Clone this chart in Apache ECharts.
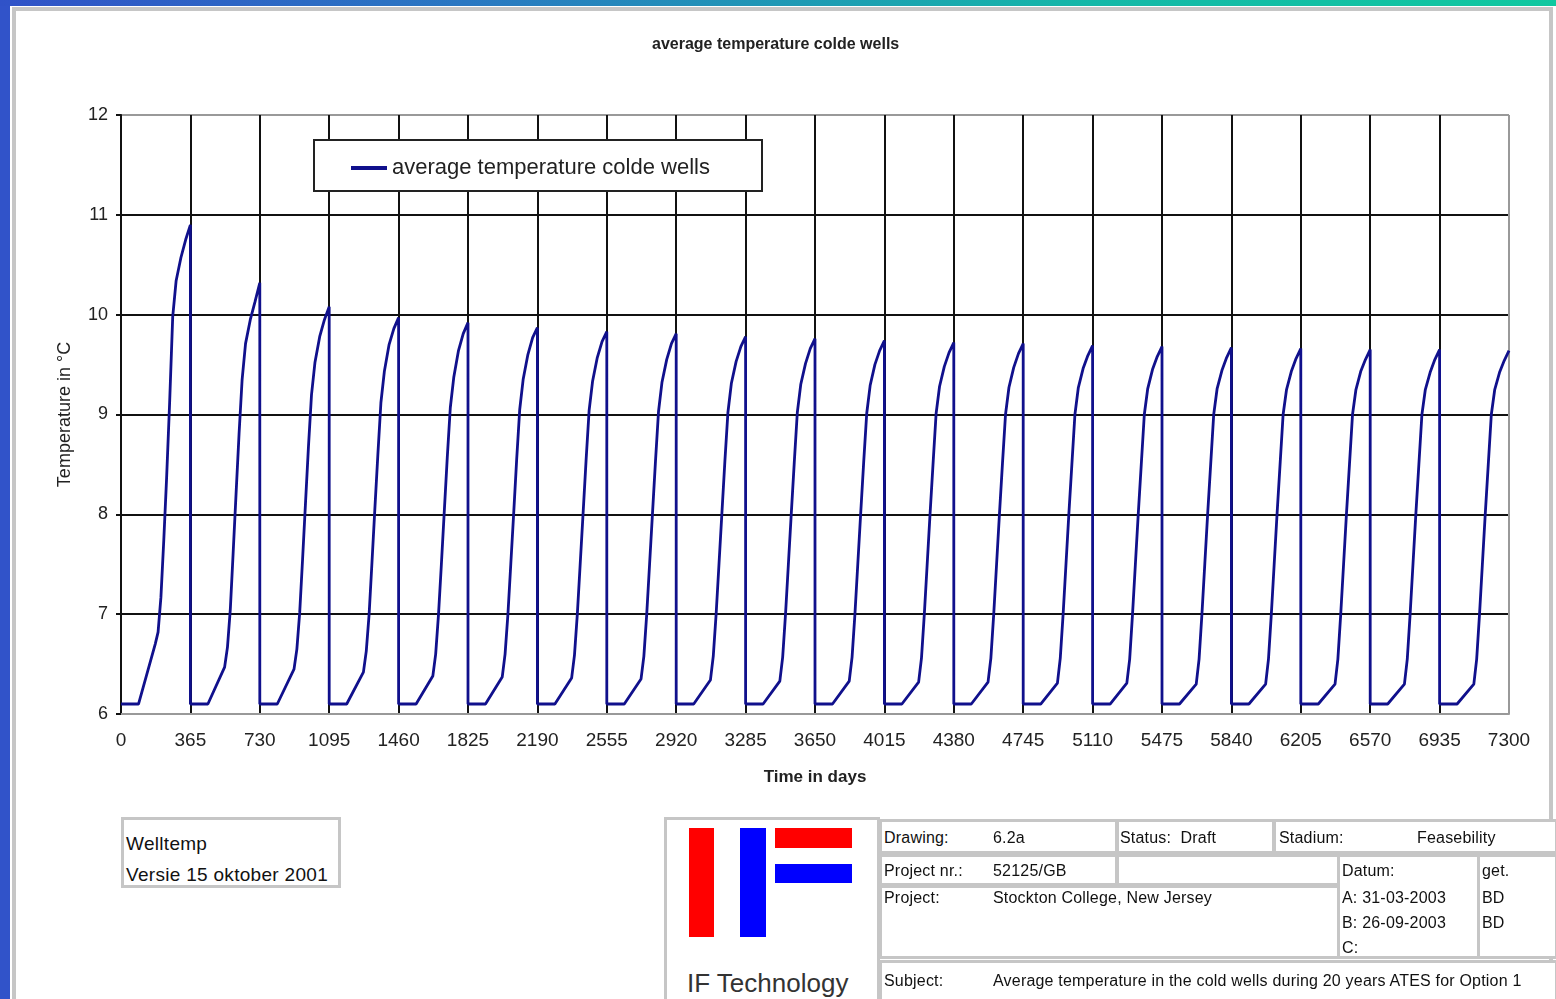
<!DOCTYPE html>
<html>
<head>
<meta charset="utf-8">
<script src="https://cdn.jsdelivr.net/npm/echarts@6/dist/echarts.min.js"></script>
<style>
    body { margin: 0; }
    #page { position: relative; width: 1556px; height: 999px; overflow: hidden; background: #3153c9; font-family: "Liberation Sans", Arial, sans-serif; }
    #topbar { position: absolute; left: 0; top: 0; width: 1556px; height: 6px; background: linear-gradient(to right, #3052c8 0%, #2a78c2 30%, #14b8a8 70%, #10c8a0 100%); }
    #sheet { position: absolute; left: 10px; top: 6px; width: 1546px; height: 1000px; background: #fff; }
    #sheetborder { position: absolute; left: 12px; top: 7px; width: 1533px; height: 1000px; border: 4px solid #c6c6c6; }
    #chart { position: absolute; left: 0; top: 0; width: 1556px; height: 999px; }
    .box { position: absolute; border: 3px solid #c6c6c6; box-sizing: border-box; background: #fff; }
    .t { position: absolute; font-size: 16px; letter-spacing: 0.2px; color: #111; white-space: nowrap; line-height: 1; }
</style>
</head>
<body>
<div id="page">
    <div id="topbar"></div>
    <div id="sheet"></div>
    <div id="sheetborder"></div>
    <div id="chart"></div>

    <!-- version box -->
    <div class="box" style="left:121px;top:817px;width:220px;height:71px;"></div>
    <div class="t" style="left:126px;top:834px;font-size:19px;letter-spacing:0.3px;">Welltemp</div>
    <div class="t" style="left:126px;top:865px;font-size:19px;letter-spacing:0.3px;">Versie 15 oktober 2001</div>

    <!-- title block -->
    <div class="box" style="left:664px;top:817px;width:216px;height:190px;"></div>
    <div style="position:absolute;left:689px;top:828px;width:25px;height:109px;background:#f00;"></div>
    <div style="position:absolute;left:740px;top:828px;width:26px;height:109px;background:#00f;"></div>
    <div style="position:absolute;left:775px;top:828px;width:77px;height:20px;background:#f00;"></div>
    <div style="position:absolute;left:775px;top:864px;width:77px;height:19px;background:#00f;"></div>
    <div class="t" style="left:687px;top:970px;font-size:26px;letter-spacing:0;color:#333;">IF Technology</div>

    <div class="box" style="left:879px;top:819px;width:239px;height:35px;"></div>
    <div class="box" style="left:1116px;top:819px;width:159px;height:35px;"></div>
    <div class="box" style="left:1273px;top:819px;width:285px;height:35px;"></div>
    <div class="box" style="left:879px;top:854px;width:239px;height:32px;"></div>
    <div class="box" style="left:1116px;top:854px;width:224px;height:32px;"></div>
    <div class="box" style="left:879px;top:885px;width:461px;height:74px;"></div>
    <div class="box" style="left:1337px;top:854px;width:143px;height:105px;"></div>
    <div class="box" style="left:1477px;top:854px;width:81px;height:105px;"></div>
    <div class="box" style="left:879px;top:960px;width:679px;height:50px;"></div>

    <div class="t" style="left:884px;top:830px;">Drawing:</div>
    <div class="t" style="left:993px;top:830px;">6.2a</div>
    <div class="t" style="left:1120px;top:830px;">Status:&nbsp; Draft</div>
    <div class="t" style="left:1279px;top:830px;">Stadium:</div>
    <div class="t" style="left:1417px;top:830px;">Feasebility</div>
    <div class="t" style="left:884px;top:863px;">Project nr.:</div>
    <div class="t" style="left:993px;top:863px;">52125/GB</div>
    <div class="t" style="left:884px;top:890px;">Project:</div>
    <div class="t" style="left:993px;top:890px;">Stockton College, New Jersey</div>
    <div class="t" style="left:1342px;top:863px;">Datum:</div>
    <div class="t" style="left:1342px;top:890px;">A: 31-03-2003</div>
    <div class="t" style="left:1342px;top:915px;">B: 26-09-2003</div>
    <div class="t" style="left:1342px;top:940px;">C:</div>
    <div class="t" style="left:1482px;top:863px;">get.</div>
    <div class="t" style="left:1482px;top:890px;">BD</div>
    <div class="t" style="left:1482px;top:915px;">BD</div>
    <div class="t" style="left:884px;top:973px;">Subject:</div>
    <div class="t" style="left:993px;top:973px;">Average temperature in the cold wells during 20 years ATES for Option 1</div>
</div>
<script>
// start day of each yearly cycle (temperature drops back at each of these)
const cycleStarts = [0, 365, 730, 1095, 1460, 1825, 2190, 2555, 2920, 3285,
    3650, 4015, 4380, 4745, 5110, 5475, 5840, 6205, 6570, 6935];

// day within the cycle where each temperature was read
const dayInCycle = [0, 92, 180, 195, 210, 225, 240, 256, 272, 290, 315, 340, 365];

// temperature (°C) for each cycle, at dayInCycle
const cycleTemps = [
    [6.1, 6.1, 6.70, 6.82, 7.17, 7.74, 8.37, 9.13, 9.98, 10.34, 10.57, 10.75, 10.90],
    [6.1, 6.1, 6.47, 6.67, 7.05, 7.62, 8.20, 8.81, 9.35, 9.71, 9.95, 10.13, 10.32],
    [6.1, 6.1, 6.45, 6.65, 7.02, 7.55, 8.10, 8.68, 9.20, 9.52, 9.78, 9.95, 10.08],
    [6.1, 6.1, 6.42, 6.63, 7.00, 7.52, 8.05, 8.60, 9.12, 9.43, 9.70, 9.86, 9.97],
    [6.1, 6.1, 6.38, 6.60, 7.00, 7.50, 8.02, 8.57, 9.07, 9.37, 9.64, 9.81, 9.92],
    [6.1, 6.1, 6.37, 6.60, 7.00, 7.50, 8.00, 8.55, 9.05, 9.35, 9.60, 9.77, 9.87],
    [6.1, 6.1, 6.36, 6.59, 7.00, 7.50, 8.00, 8.54, 9.04, 9.33, 9.57, 9.73, 9.83],
    [6.1, 6.1, 6.35, 6.58, 7.00, 7.50, 8.00, 8.53, 9.03, 9.32, 9.55, 9.71, 9.81],
    [6.1, 6.1, 6.34, 6.58, 7.00, 7.50, 8.00, 8.53, 9.02, 9.31, 9.53, 9.68, 9.78],
    [6.1, 6.1, 6.33, 6.57, 7.00, 7.50, 8.00, 8.52, 9.02, 9.30, 9.51, 9.66, 9.76],
    [6.1, 6.1, 6.33, 6.57, 7.00, 7.50, 8.00, 8.52, 9.01, 9.29, 9.50, 9.64, 9.74],
    [6.1, 6.1, 6.32, 6.56, 7.00, 7.50, 8.00, 8.51, 9.01, 9.28, 9.48, 9.62, 9.72],
    [6.1, 6.1, 6.32, 6.56, 7.00, 7.50, 8.00, 8.51, 9.00, 9.27, 9.47, 9.61, 9.71],
    [6.1, 6.1, 6.31, 6.56, 7.00, 7.50, 8.00, 8.50, 9.00, 9.27, 9.46, 9.59, 9.69],
    [6.1, 6.1, 6.31, 6.55, 7.00, 7.50, 8.00, 8.50, 9.00, 9.26, 9.45, 9.58, 9.68],
    [6.1, 6.1, 6.30, 6.55, 7.00, 7.50, 8.00, 8.50, 9.00, 9.26, 9.44, 9.57, 9.67],
    [6.1, 6.1, 6.30, 6.55, 7.00, 7.50, 8.00, 8.50, 9.00, 9.25, 9.43, 9.56, 9.66],
    [6.1, 6.1, 6.30, 6.55, 7.00, 7.50, 8.00, 8.50, 9.00, 9.25, 9.43, 9.55, 9.65],
    [6.1, 6.1, 6.30, 6.55, 7.00, 7.50, 8.00, 8.50, 9.00, 9.25, 9.42, 9.55, 9.65],
    [6.1, 6.1, 6.30, 6.55, 7.00, 7.50, 8.00, 8.50, 9.00, 9.25, 9.42, 9.54, 9.64]
];

const seriesName = 'average temperature colde wells';

window.onload = function() {
    drawChart();
}

function drawChart() {
    let chart = echarts.init(document.getElementById('chart'));

    let points = [];
    cycleStarts.forEach((start, i) => {
        dayInCycle.forEach((d, j) => {
            points.push([start + d, cycleTemps[i][j]]);
        });
    });

    let gridBlack = '#111';
    let xSplitColors = cycleStarts.map(() => gridBlack).concat(['#999']);

    let option = {
        backgroundColor: 'transparent',
        animation: false,
        textStyle: { fontFamily: 'Liberation Sans, Arial, sans-serif' },
        title: {
            text: seriesName,
            left: 647,
            top: 32,
            textStyle: { fontSize: 16, fontWeight: 'bold', color: '#222' }
        },
        legend: {
            left: 346,
            top: 152,
            icon: 'rect',
            itemWidth: 36,
            itemHeight: 4,
            itemGap: 4,
            textStyle: { fontSize: 22, color: '#222' },
            data: [seriesName]
        },
        graphic: [{
            type: 'rect',
            z: 3,
            shape: { x: 314, y: 140, width: 448, height: 51 },
            style: { fill: '#fff', stroke: '#222', lineWidth: 2 }
        }],
        grid: { left: 121, top: 115, width: 1388, height: 599 },
        xAxis: {
            type: 'value',
            min: 0,
            max: 7300,
            interval: 365,
            name: 'Time in days',
            nameLocation: 'middle',
            nameGap: 55,
            nameTextStyle: { fontSize: 17, fontWeight: 'bold', color: '#222' },
            axisLine: { lineStyle: { color: '#999', width: 2 } },
            axisTick: { show: false },
            axisLabel: { fontSize: 19, color: '#222', margin: 17, formatter: v => String(v) },
            splitLine: { lineStyle: { color: xSplitColors, width: 2 } }
        },
        yAxis: {
            type: 'value',
            min: 6,
            max: 12,
            interval: 1,
            name: 'Temperature in °C',
            nameLocation: 'middle',
            nameGap: 47,
            nameTextStyle: { fontSize: 18, color: '#222' },
            axisLine: { show: true, lineStyle: { color: '#111', width: 2 } },
            axisTick: { show: true, length: 5, lineStyle: { color: '#111', width: 2 } },
            axisLabel: { fontSize: 18, color: '#222', margin: 13 },
            splitLine: { lineStyle: { color: ['#999', gridBlack, gridBlack, gridBlack, gridBlack, gridBlack, '#999'], width: 2 } }
        },
        series: [{
            name: seriesName,
            type: 'line',
            data: points,
            showSymbol: false,
            color: '#10108c',
            lineStyle: { color: '#10108c', width: 2.8 },
            z: 2
        }]
    };

    chart.setOption(option);
}
</script>
</body>
</html>
